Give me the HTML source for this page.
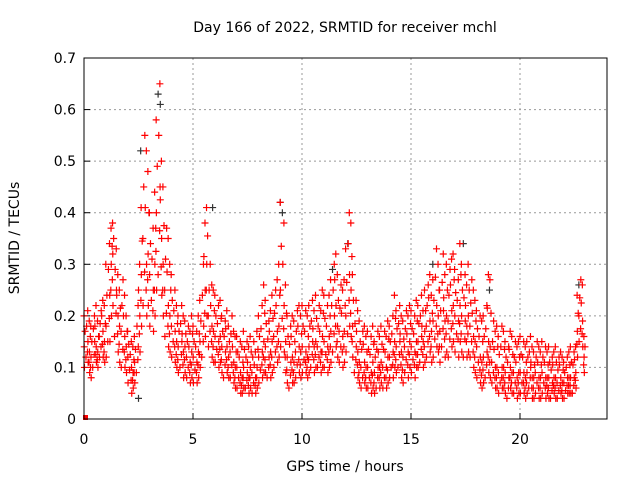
<!DOCTYPE html>
<html><head><meta charset="utf-8"><style>
body{margin:0;background:#fff;}
svg{display:block;font-family:"DejaVu Sans","Liberation Sans",sans-serif;}
</style></head><body>
<svg id="chart" width="640" height="480">
<text x="345" y="32" text-anchor="middle" font-size="14">Day 166 of 2022, SRMTID for receiver mchl</text>
<text x="345" y="471" text-anchor="middle" font-size="14">GPS time / hours</text>
<text transform="translate(19,238) rotate(-90)" text-anchor="middle" font-size="14">SRMTID / TECUs</text>
<g id="grid"></g><g id="axes"></g><g id="marks"></g>
<rect x="84" y="58" width="523" height="361" fill="none" stroke="#000"/>
</svg>
<script>
const xTicks=[0,5,10,15,20];
const yTicks=[0,0.1,0.2,0.3,0.4,0.5,0.6,0.7];
const yTickLabels=["0","0.1","0.2","0.3","0.4","0.5","0.6","0.7"];
const binHours=0.1;
const hiVals=[.20,.21,.19,.18,.20,.22,.19,.21,.23,.22,.30,.34,.37,.38,.33,.28,.25,.27,.24,.20,.17,.15,.14,.16,.22,.30,.41,.55,.52,.48,.40,.37,.44,.58,.65,.50,.45,.37,.35,.30,.28,.25,.22,.20,.22,.20,.19,.18,.17,.20,.18,.17,.20,.23,.30,.38,.41,.30,.26,.25,.24,.22,.23,.20,.19,.21,.18,.20,.17,.16,.16,.15,.14,.17,.15,.14,.16,.15,.13,.17,.20,.22,.26,.23,.19,.21,.24,.25,.27,.30,.42,.38,.26,.20,.18,.20,.19,.21,.22,.20,.22,.21,.20,.22,.23,.21,.24,.22,.21,.25,.24,.22,.24,.27,.30,.32,.28,.26,.25,.27,.33,.40,.38,.28,.23,.21,.19,.17,.18,.16,.17,.16,.18,.15,.17,.16,.18,.17,.16,.19,.18,.20,.24,.21,.22,.20,.19,.21,.20,.22,.21,.20,.23,.22,.24,.21,.25,.26,.28,.24,.27,.33,.30,.25,.32,.28,.30,.29,.31,.32,.29,.27,.34,.30,.28,.26,.30,.27,.25,.23,.21,.20,.19,.20,.22,.28,.27,.19,.17,.18,.16,.18,.17,.15,.14,.17,.16,.15,.14,.15,.16,.15,.14,.15,.16,.14,.13,.15,.14,.13,.15,.14,.13,.14,.12,.13,.14,.12,.13,.12,.11,.12,.13,.14,.13,.14,.24,.27,.26,.16];
const midVals=[.14,.15,.13,.12,.15,.14,.13,.16,.17,.15,.18,.24,.30,.32,.25,.20,.18,.17,.16,.14,.12,.10,.09,.11,.14,.20,.28,.35,.30,.32,.28,.25,.30,.40,.45,.35,.30,.25,.22,.20,.18,.17,.15,.14,.15,.13,.14,.12,.11,.13,.12,.11,.13,.15,.18,.25,.30,.20,.18,.17,.16,.15,.16,.14,.13,.14,.12,.13,.11,.10,.10,.09,.08,.10,.09,.08,.10,.09,.08,.10,.12,.13,.15,.14,.12,.13,.15,.16,.17,.18,.25,.22,.15,.12,.11,.12,.11,.13,.14,.13,.14,.13,.12,.14,.15,.14,.15,.14,.13,.16,.15,.14,.16,.17,.20,.22,.18,.17,.16,.17,.20,.28,.25,.18,.14,.13,.11,.10,.11,.10,.10,.09,.11,.09,.10,.10,.11,.10,.10,.12,.12,.13,.15,.14,.15,.13,.12,.14,.13,.15,.14,.13,.15,.15,.16,.15,.17,.18,.19,.17,.19,.22,.20,.17,.21,.19,.20,.19,.21,.22,.20,.19,.22,.20,.19,.18,.20,.18,.16,.15,.14,.12,.11,.12,.13,.15,.14,.11,.10,.10,.09,.10,.10,.09,.08,.10,.09,.09,.08,.09,.09,.09,.08,.09,.10,.08,.08,.09,.08,.08,.09,.08,.08,.08,.07,.08,.08,.07,.08,.07,.07,.08,.08,.08,.08,.09,.17,.20,.19,.12];
const loVals=[.10,.11,.09,.08,.10,.11,.10,.12,.12,.11,.12,.15,.20,.22,.16,.13,.11,.10,.10,.09,.07,.05,.06,.07,.09,.13,.18,.22,.20,.22,.18,.17,.20,.25,.28,.24,.20,.16,.14,.13,.12,.11,.10,.09,.10,.08,.09,.08,.07,.08,.07,.07,.08,.10,.12,.16,.20,.14,.12,.11,.11,.10,.11,.09,.08,.09,.08,.08,.07,.06,.06,.05,.05,.06,.06,.05,.06,.05,.05,.06,.07,.08,.09,.09,.08,.08,.09,.10,.11,.12,.14,.13,.09,.07,.06,.07,.07,.08,.09,.08,.09,.09,.08,.09,.10,.09,.10,.10,.09,.10,.10,.09,.10,.11,.13,.14,.12,.11,.10,.11,.13,.18,.16,.12,.09,.08,.07,.06,.07,.06,.06,.05,.06,.05,.06,.06,.07,.06,.06,.07,.08,.08,.10,.09,.10,.08,.07,.09,.08,.10,.09,.08,.10,.10,.11,.10,.11,.12,.13,.11,.12,.14,.13,.11,.14,.12,.13,.12,.14,.15,.13,.12,.15,.13,.12,.12,.13,.12,.10,.09,.08,.07,.06,.07,.08,.09,.08,.07,.06,.06,.05,.06,.06,.05,.04,.06,.05,.05,.04,.05,.05,.05,.04,.05,.06,.04,.04,.05,.04,.04,.05,.04,.05,.04,.04,.05,.04,.04,.05,.04,.04,.05,.05,.05,.05,.06,.12,.15,.14,.09];
const darkTimes=[2.6,3.4,3.5,5.9,9.0,9.1,12.1,17.4,18.6,2.5,11.4,16.0,22.7];
const darkVals=[.52,.63,.61,.41,.42,.40,.34,.34,.25,.04,.29,.30,.26];
const NS="http://www.w3.org/2000/svg";
const X=h=>84+h*21.8, Y=v=>419-v*515.7;
const grid=document.getElementById('grid'),axes=document.getElementById('axes'),marks=document.getElementById('marks');
function mk(t,a,p){const e=document.createElementNS(NS,t);for(const k in a)e.setAttribute(k,a[k]);p.appendChild(e);return e;}
xTicks.forEach(t=>{
 if(t>0){const g=mk('line',{x1:X(t),x2:X(t),y1:58,y2:419,stroke:'#999','stroke-dasharray':'2,3'},grid);
 
 }
 const l=mk('text',{x:X(t),y:444,'text-anchor':'middle','font-size':14},axes);l.textContent=t;
 
 
 mk('line',{x1:X(t),x2:X(t),y1:419,y2:413,stroke:'#000'},axes);
});
yTicks.forEach((t,i)=>{
 if(t>0&&t<0.7){const g=mk('line',{x1:84,x2:607,y1:Y(t),y2:Y(t),stroke:'#999','stroke-dasharray':'2,3'},grid);
 
 }
 const l=mk('text',{x:76,y:Y(t)+5,'text-anchor':'end','font-size':14},axes);l.textContent=yTickLabels[i];
 
 
 mk('line',{x1:84,x2:90,y1:Y(t),y2:Y(t),stroke:'#000'},axes);
});
function cross(h,v,c,name){
 const x=X(h),y=Y(v);
 const p=mk('path',{d:`M${x-3.5},${y}h7M${x},${y-3.5}v7`,stroke:c,'stroke-width':1.2,fill:'none'},marks);
 
 
}
darkTimes.forEach((h,i)=>cross(h,darkVals[i],'#333','dark-point'));
const off=i=>((i*37)%10)/100;
[hiVals,midVals,loVals].forEach((arr,k)=>arr.forEach((v,i)=>{
 cross(i*binHours+off(i+k*3),v,'#f00','srmtid-point');
}));
hiVals.forEach((v,i)=>cross(i*binHours+off(i+5),(v+midVals[i])/2,'#f00','srmtid-point'));
loVals.forEach((v,i)=>cross(i*binHours+off(i+7),(v+midVals[i])/2,'#f00','srmtid-point'));
const sq=mk('rect',{x:X(0)-1,y:Y(0)-4,width:5,height:5,fill:'#f00'},marks);


</script>
</body></html>
